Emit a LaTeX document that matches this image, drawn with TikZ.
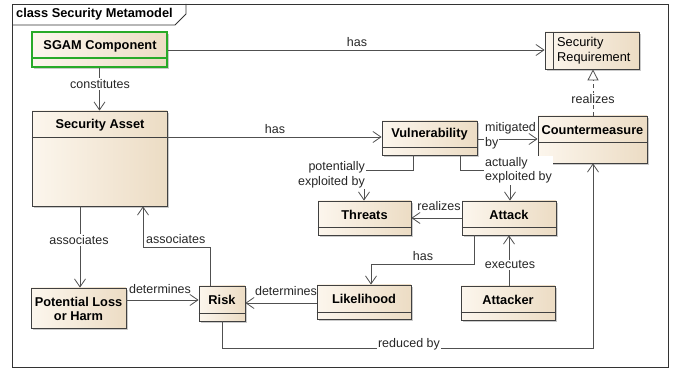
\documentclass[tikz,border=0pt]{standalone}
\usepackage{fontspec}
\setmainfont{Liberation Sans}
\usetikzlibrary{arrows.meta, positioning, fit, shadows}
\definecolor{BoxLight}{RGB}{252,246,237}
\definecolor{BoxDark}{RGB}{236,220,196}
\definecolor{SgamGreen}{RGB}{40,170,40}
\definecolor{LineGray}{RGB}{80,80,80}

\begin{document}
\begin{tikzpicture}[x=1pt, y=-1pt,
	classbox/.style={draw=black!75, line width=0.8pt, left color=BoxLight, right color=BoxDark, inner sep=0pt,
		drop shadow={shadow xshift=2pt, shadow yshift=-2pt, fill=black!35, opacity=0.6}},
	classname/.style={font=\fontsize{12.8}{14.5}\selectfont\bfseries, align=center, inner sep=0pt},
	conn/.style={draw=LineGray, line width=0.8pt, -{Straight Barb[length=8pt, width=11pt]}},
	realize/.style={draw=LineGray, line width=0.8pt, dash pattern=on 4pt off 3pt, -{Triangle[open, length=11pt, width=11pt, fill=white]}},
	lbl/.style={font=\fontsize{12.5}{14.5}\selectfont, text=black!85, inner sep=1pt},
	lblbg/.style={lbl, fill=white}]

	\useasboundingbox (0,0) rectangle (678,371);
	% frame
	\draw[black!80, line width=0.8pt] (12,4) rectangle (668,367);
	\draw[black!80, line width=0.8pt] (12,25) -- (175,25) -- (186,14) -- (186,4);
	\node[classname, anchor=west] (frametitle) at (16,14.5) {class Security Metamodel};

	% classes
	\node[classbox, fit={(32,32) (167,67)}, draw=SgamGreen, line width=2pt] (sgam) {};
	\draw[SgamGreen, line width=1.6pt] (sgam.west |- 0,58) -- (sgam.east |- 0,58);
	\node[classname] (sgamname) at (100,46) {SGAM Component};

	\node[classbox, fit={(32,111) (167,206)}] (asset) {};
	\draw[black!75, line width=0.8pt] (asset.west |- 0,137) -- (asset.east |- 0,137);
	\node[classname] (assetname) at (100,125) {Security Asset};

	\node[classbox, fit={(545,32) (639,69)}] (secreq) {};
	\draw[black!75, line width=0.8pt] (553,32) -- (553,69);
	\node[classname, font=\fontsize{12.8}{15}\selectfont, align=left, anchor=west] (secreqname) at (557,50.5) {Security\\Requirement};

	\node[classbox, fit={(538,116) (647,163)}] (counter) {};
	\draw[black!75, line width=0.8pt] (counter.west |- 0,142) -- (counter.east |- 0,142);
	\node[classname] (countername) at (592.5,130) {Countermeasure};

	\node[classbox, fit={(382,121) (477,155)}] (vuln) {};
	\draw[black!75, line width=0.8pt] (vuln.west |- 0,147) -- (vuln.east |- 0,147);
	\node[classname] (vulnname) at (429.5,134) {Vulnerability};

	\node[classbox, fit={(318,201) (411,235)}] (threats) {};
	\draw[black!75, line width=0.8pt] (threats.west |- 0,227) -- (threats.east |- 0,227);
	\node[classname] (threatsname) at (364.5,215) {Threats};

	\node[classbox, fit={(462,201) (556,235)}] (attack) {};
	\draw[black!75, line width=0.8pt] (attack.west |- 0,227) -- (attack.east |- 0,227);
	\node[classname] (attackname) at (509,215) {Attack};

	\node[classbox, fit={(461,286) (555,320)}] (attacker) {};
	\draw[black!75, line width=0.8pt] (attacker.west |- 0,312) -- (attacker.east |- 0,312);
	\node[classname] (attackername) at (508,300) {Attacker};

	\node[classbox, fit={(317,285) (411,319)}] (likeli) {};
	\draw[black!75, line width=0.8pt] (likeli.west |- 0,312) -- (likeli.east |- 0,312);
	\node[classname] (likeliname) at (364,299) {Likelihood};

	\node[classbox, fit={(199,286) (245,321)}] (risk) {};
	\draw[black!75, line width=0.8pt] (risk.west |- 0,313) -- (risk.east |- 0,313);
	\node[classname] (riskname) at (222,300) {Risk};

	\node[classbox, fit={(31,288) (126,328)}] (loss) {};
	\node[classname] (lossname) at (78.5,309) {Potential Loss\\or Harm};

	% relations
	\draw[conn] (sgam.east |- 0,50) -- (secreq.west |- 0,50);
	\node[lbl] (lhasreq) at (357,42) {has};

	\draw[conn] (sgam.south) -- (asset.north);
	\node[lblbg] (lconst) at (100,84) {constitutes};

	\draw[conn] (asset.east |- 0,137) -- (vuln.west |- 0,137);
	\node[lbl] (lhasvuln) at (275,129) {has};

	\draw[conn] (vuln.east |- 0,139) -- (counter.west |- 0,139);
	\node[lbl, anchor=west] (lmitig) at (484,128) {mitigated};
	\node[lblbg, anchor=west] (lmitigby) at (484,143) {by};

	\draw[conn] (vuln.south -| 413,0) |- (364,170) -- (threats.north -| 364,0);
	\node[lblbg, anchor=east, align=right] (lpotexp) at (366,175) {potentially\\exploited by};

	\draw[conn] (vuln.south -| 460,0) |- (510,170) -- (attack.north -| 510,0);
	\node[lblbg, anchor=west, align=left] (lactexp) at (484,170.5) {actually\\exploited by};

	\draw[conn] (attack.west |- 0,218) -- (threats.east |- 0,218);
	\node[lbl] (lrealthr) at (439,206) {realizes};

	\draw[conn] (attack.south -| 474,0) |- (371,264) -- (likeli.north -| 371,0);
	\node[lbl] (lhaslik) at (423,256) {has};

	\draw[conn] (attacker.north -| 509,0) -- (attack.south -| 509,0);
	\node[lblbg] (lexec) at (510,265) {executes};

	\draw[conn] (likeli.west |- 0,303) -- (risk.east |- 0,303);
	\node[lbl] (ldetlik) at (286,291) {determines};

	\draw[conn] (loss.east |- 0,300) -- (risk.west |- 0,300);
	\node[lbl] (ldetloss) at (160,289) {determines};

	\draw[conn] (asset.south -| 80,0) -- (loss.north -| 80,0);
	\node[lblbg] (lassocloss) at (79,240) {associates};

	\draw[conn] (risk.north -| 210,0) |- (143,247) -- (asset.south -| 143,0);
	\node[lbl, anchor=west] (lassocrisk) at (145,239) {associates};

	\draw[conn] (risk.south -| 222,0) |- (593,348) -- (counter.south -| 593,0);
	\node[lblbg] (lreduced) at (409,344) {reduced by};

	\draw[realize] (counter.north -| 593,0) -- (secreq.south -| 593,0);
	\node[lblbg] (lrealreq) at (593,99) {realizes};
\end{tikzpicture}
\end{document}
